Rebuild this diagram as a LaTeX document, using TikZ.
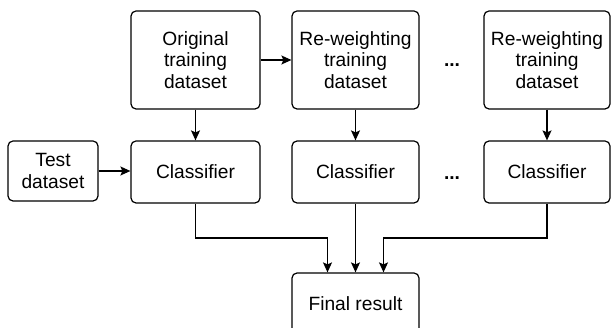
\documentclass[tikz,border=0pt]{standalone}
\usepackage{fontspec}
\setmainfont{Liberation Sans}
\usetikzlibrary{arrows.meta}
\begin{document}
\begin{tikzpicture}[x=1pt,y=-1pt,
  box/.style={draw,line width=1.2pt,rounded corners=5pt,align=center,inner sep=0pt,
    font=\fontsize{19.2}{21.5}\selectfont},
  conn/.style={line width=1.2pt,-{Stealth[length=10pt,width=9pt,inset=2pt]}},
  dotsnode/.style={font=\fontsize{19.2}{21.5}\selectfont\bfseries,anchor=base,inner sep=0pt}]
\clip (0,0) rectangle (611,328);
\useasboundingbox (0,0) rectangle (611,328);
\node[box,minimum width=129pt,minimum height=98pt] (orig) at (195.5,60) {Original\\training\\dataset};
\node[box,minimum width=127pt,minimum height=98pt] (rw1) at (355.5,60) {Re-weighting\\training\\dataset};
\node[box,minimum width=126pt,minimum height=98pt] (rw2) at (547,60) {Re-weighting\\training\\dataset};
\node[box,minimum width=90pt,minimum height=60pt] (test) at (53,171) {Test\\dataset};
\node[box,minimum width=129pt,minimum height=62pt] (c1) at (195.5,172) {Classifier};
\node[box,minimum width=127pt,minimum height=62pt] (c2) at (355.5,172) {Classifier};
\node[box,minimum width=126pt,minimum height=62pt] (c3) at (547,172) {Classifier};
\node[box,minimum width=127pt,minimum height=62pt] (fin) at (355.5,304) {Final result};
\node[dotsnode] (d1) at (452,67) {...};
\node[dotsnode] (d2) at (452,180) {...};
\draw[conn] (orig) -- (rw1);
\draw[conn] (orig) -- (c1);
\draw[conn] (rw1) -- (c2);
\draw[conn] (rw2) -- (c3);
\draw[conn] (test) -- (test -| c1.west);
\draw[conn] (c1.south) |- ([xshift=-28pt]fin.north |- 0,238) -- ([xshift=-28pt]fin.north);
\draw[conn] (c2) -- (fin);
\draw[conn] (c3.south) |- ([xshift=28pt]fin.north |- 0,238) -- ([xshift=28pt]fin.north);
\end{tikzpicture}
\end{document}
